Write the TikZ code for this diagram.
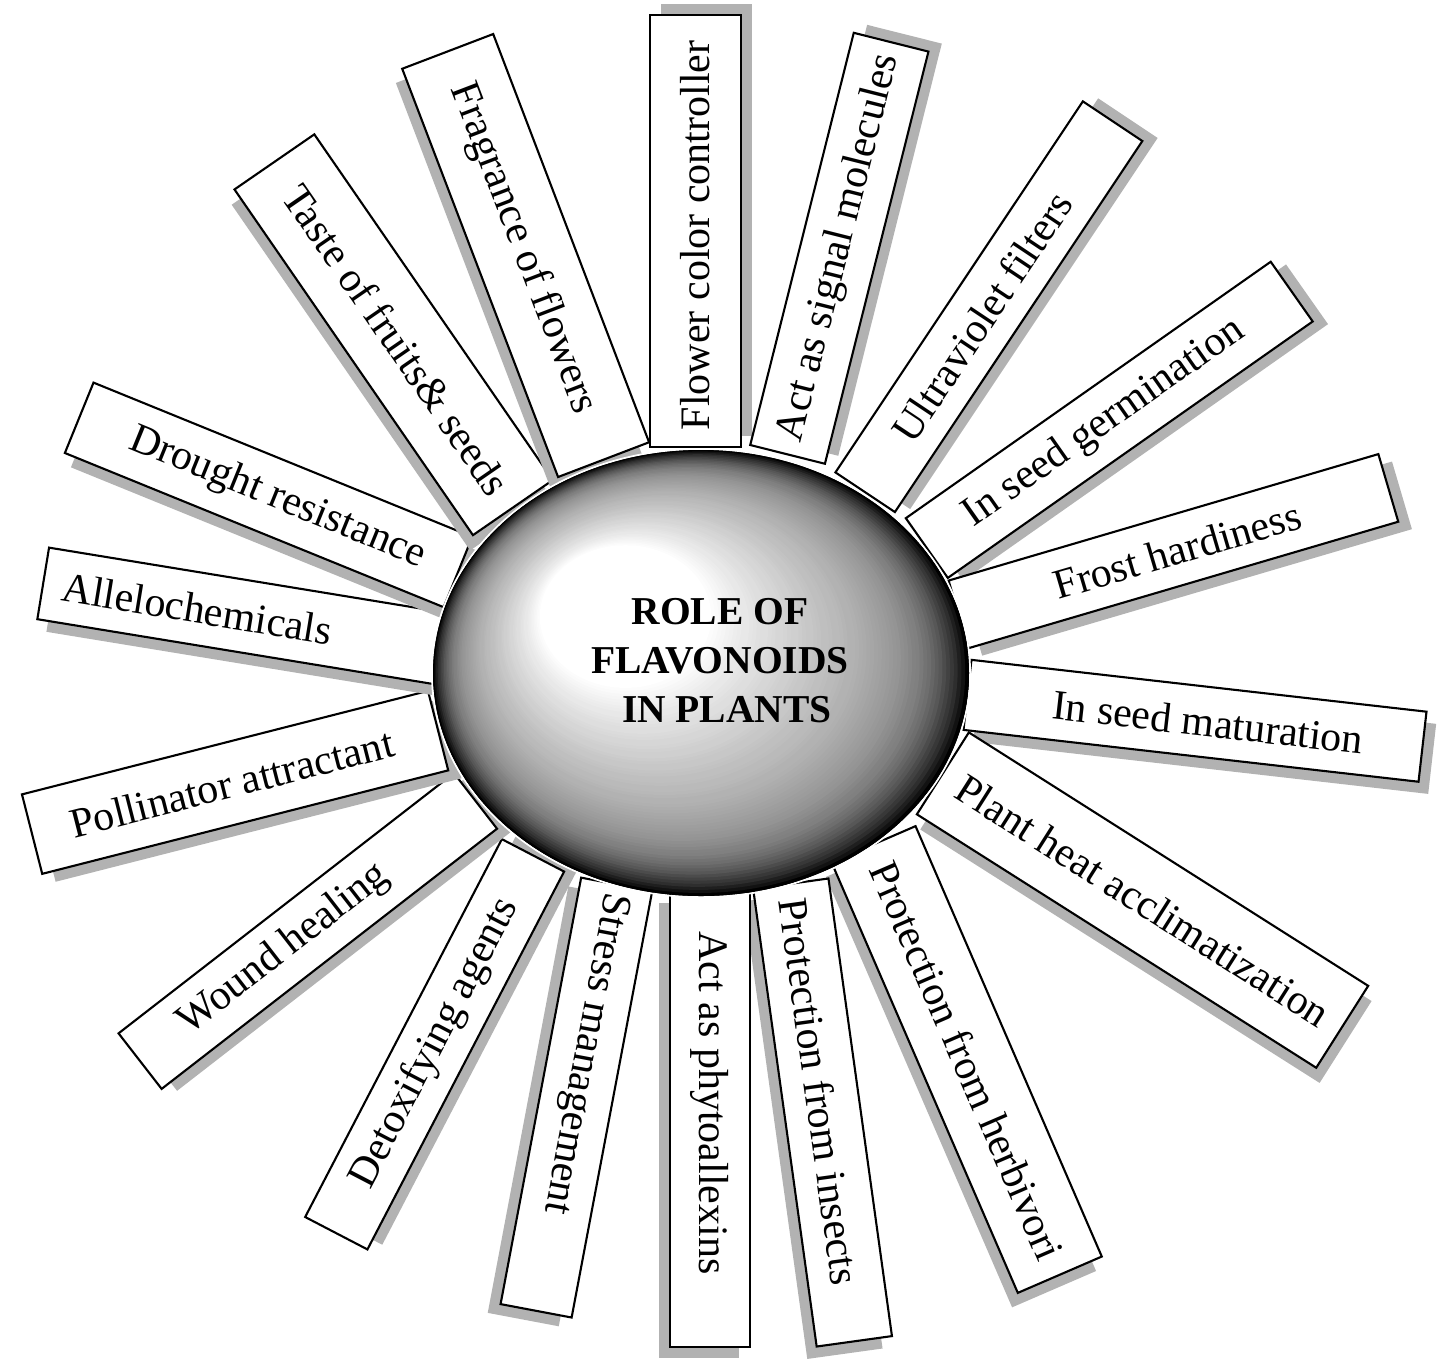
\documentclass[tikz,border=0pt]{standalone}
\usepackage{fontspec}
\setmainfont{Liberation Serif}
\usetikzlibrary{shapes.geometric}
\tikzset{
  raybox/.style={draw=black, fill=white, line width=2.1pt, rectangle, inner sep=0pt, transform shape},
  raytext/.style={font=\fontsize{42}{50}\selectfont, inner sep=0pt, transform shape},
  shadowgray/.style={fill=black!30},
  titletext/.style={font=\bfseries\fontsize{39.5}{49}\selectfont, align=center, inner sep=0pt},
  sphere/.style={ellipse, minimum width=536pt, minimum height=446pt, inner sep=0pt, fill=black},
  sphereedge/.style={draw=white, line width=2pt}
}
\newcommand\raysd{11}
% #1 name, #2 #3 outer-end midpoint, #4 outward angle, #5 length, #6 width,
% #7 text position along axis, #8 extra text rotation (0 or 180), #9 text
\newcommand\myray[9]{%
  \begin{scope}[shift={(#2,#3)}, rotate=#4]
    \fill[shadowgray] ({-#5+\raysd*cos(#8)},{-#6/2+\raysd*cos(#8)}) rectangle ({\raysd*cos(#8)},{#6/2+\raysd*cos(#8)});
    \node[raybox, minimum width=#5, minimum height=#6] (#1) at ({-#5/2},0) {};
    \node[raytext, rotate=#8] (#1t) at (#7,0) {#9};
  \end{scope}}
\begin{document}
\begin{tikzpicture}[x=1pt,y=-1pt]
\useasboundingbox (0,0) rectangle (1440,1371);
\myray{fcc}{695.5}{15.3}{90}{432}{91}{-220}{0}{Flower color controller}
\myray{asm}{891.1}{42.2}{75.9}{425}{77}{-212}{0}{Act as signal molecules}
\myray{uvf}{1112.6}{121.2}{56.3}{446}{71.5}{-235}{0}{Ultraviolet filters}
\myray{isg}{1291.7}{291.6}{35.1}{446}{73}{-229}{0}{In seed germination}
\myray{frh}{1388.3}{487.9}{16.4}{448}{70.5}{-220}{0}{Frost hardiness}
\myray{ism}{1422.5}{746.7}{-6.5}{458}{70.5}{-216}{0}{In seed maturation}
\myray{pha}{1342.2}{1026.8}{-32.4}{473}{97}{-236}{0}{Plant heat acclimatization}
\myray{pfh}{1059.8}{1274.7}{-66.6}{469}{91.5}{-233}{0}{Protection from herbivori}
\myray{pfi}{854.3}{1341.3}{-82.1}{462}{76}{-252}{0}{Protection from insects}
\myray{aap}{710}{1347}{-90}{455}{80}{-244}{0}{Act as phytoallexins}
\myray{stm}{536.1}{1310.8}{-100.7}{434}{72.3}{-262}{0}{Stress management}
\myray{dta}{336.3}{1233.2}{-117.5}{426}{70.2}{-214}{180}{Detoxifying agents}
\myray{wdh}{140.1}{1061.1}{-142.2}{424.5}{70.3}{-182}{180}{Wound healing}
\myray{pol}{32.1}{834.1}{-165.7}{419}{82}{-206}{180}{Pollinator attractant}
\myray{all}{43.2}{583.4}{170.7}{402}{72.5}{-156}{180}{Allelochemicals}
\myray{drr}{79.2}{417.8}{157.85}{409}{76}{-214}{180}{Drought resistance}
\myray{tfs}{274.4}{161.9}{124.6}{420}{97}{-216}{180}{Taste of fruits\& seeds}
\myray{ffl}{447.7}{51.4}{110.9}{437}{97.4}{-211}{180}{Fragrance of flowers}
\draw[sphereedge] (701,673) ellipse [x radius=269, y radius=224];
\node[sphere] (sph) at (701,673) {};
% shaded sphere: level ellipses moving from the highlight towards the centre
\foreach \i in {0,...,67}{
  \pgfmathsetmacro\myt{1-\i/100}
  \pgfmathsetmacro\myu{(\myt-0.32)/0.68}
  \pgfmathtruncatemacro\myx{100*(0.5*\myu^0.85+0.5*\myu^8)}
  \fill[black!\myx] ({590+\myt*111},{590+\myt*83}) ellipse [x radius={268*\myt}, y radius={223*\myt}];
}
\fill[white] ({590+0.32*111},{590+0.32*83}) ellipse [x radius={268*0.32}, y radius={223*0.32}];
\node[titletext] (ttl) at (720,661) {ROLE OF\\FLAVONOIDS\\\hspace*{0.35em}IN PLANTS};
\end{tikzpicture}
\end{document}
